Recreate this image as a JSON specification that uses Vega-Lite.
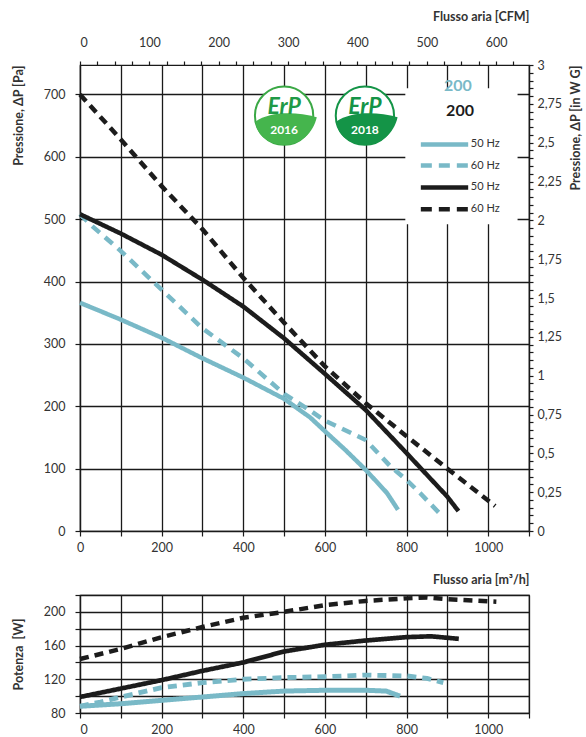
{
  "$schema": "https://vega.github.io/schema/vega-lite/v6.json",
  "padding": {"left": 11, "top": 9, "right": 0, "bottom": 0},
  "background": "white",
  "data": {"values": [{}]},
  "config": {
    "font": "Lato",
    "view": {"stroke": "#1a1a1a", "strokeWidth": 1.2},
    "axis": {"labelFont": "Lato", "labelFontSize": 12.5, "labelColor": "#333333", "titleFont": "Lato", "titleFontSize": 12.5, "titleFontWeight": "bold", "titleColor": "#333333", "domainColor": "#1a1a1a", "tickColor": "#1a1a1a", "gridColor": "#1a1a1a", "gridOpacity": 1, "gridWidth": 1.3, "domainWidth": 1.2, "tickWidth": 1.2}
  },
  "datasets": {
    "pressure": [
      {"s": "A50", "q": 0, "p": 366}, {"s": "A50", "q": 100, "p": 339}, {"s": "A50", "q": 200, "p": 310}, {"s": "A50", "q": 300, "p": 277}, {"s": "A50", "q": 400, "p": 246}, {"s": "A50", "q": 500, "p": 212}, {"s": "A50", "q": 564, "p": 182}, {"s": "A50", "q": 600, "p": 160}, {"s": "A50", "q": 650, "p": 130}, {"s": "A50", "q": 700, "p": 98}, {"s": "A50", "q": 752, "p": 61}, {"s": "A50", "q": 779, "p": 34},
      {"s": "A60", "q": 0, "p": 508}, {"s": "A60", "q": 28, "p": 490}, {"s": "A60", "q": 100, "p": 449}, {"s": "A60", "q": 200, "p": 387}, {"s": "A60", "q": 300, "p": 325}, {"s": "A60", "q": 400, "p": 277}, {"s": "A60", "q": 500, "p": 220}, {"s": "A60", "q": 564, "p": 193}, {"s": "A60", "q": 600, "p": 177}, {"s": "A60", "q": 700, "p": 146}, {"s": "A60", "q": 760, "p": 104}, {"s": "A60", "q": 800, "p": 82}, {"s": "A60", "q": 833, "p": 61}, {"s": "A60", "q": 890, "p": 22},
      {"s": "B50", "q": 0, "p": 508}, {"s": "B50", "q": 100, "p": 477}, {"s": "B50", "q": 200, "p": 443}, {"s": "B50", "q": 300, "p": 403}, {"s": "B50", "q": 400, "p": 360}, {"s": "B50", "q": 500, "p": 309}, {"s": "B50", "q": 600, "p": 252}, {"s": "B50", "q": 700, "p": 194}, {"s": "B50", "q": 800, "p": 125}, {"s": "B50", "q": 900, "p": 55}, {"s": "B50", "q": 927, "p": 32},
      {"s": "B60", "q": 0, "p": 700}, {"s": "B60", "q": 100, "p": 628}, {"s": "B60", "q": 200, "p": 553}, {"s": "B60", "q": 300, "p": 484}, {"s": "B60", "q": 400, "p": 406}, {"s": "B60", "q": 500, "p": 334}, {"s": "B60", "q": 600, "p": 264}, {"s": "B60", "q": 700, "p": 205}, {"s": "B60", "q": 800, "p": 152}, {"s": "B60", "q": 900, "p": 100}, {"s": "B60", "q": 1017, "p": 40}
    ],
    "power": [
      {"s": "A50", "q": 0, "w": 88}, {"s": "A50", "q": 100, "w": 91}, {"s": "A50", "q": 200, "w": 95}, {"s": "A50", "q": 300, "w": 99}, {"s": "A50", "q": 400, "w": 103}, {"s": "A50", "q": 500, "w": 106}, {"s": "A50", "q": 600, "w": 107}, {"s": "A50", "q": 700, "w": 107}, {"s": "A50", "q": 750, "w": 106}, {"s": "A50", "q": 784, "w": 100},
      {"s": "A60", "q": 0, "w": 88}, {"s": "A60", "q": 50, "w": 93}, {"s": "A60", "q": 100, "w": 99}, {"s": "A60", "q": 200, "w": 110}, {"s": "A60", "q": 300, "w": 116}, {"s": "A60", "q": 400, "w": 120}, {"s": "A60", "q": 500, "w": 122}, {"s": "A60", "q": 600, "w": 123}, {"s": "A60", "q": 700, "w": 125}, {"s": "A60", "q": 800, "w": 124}, {"s": "A60", "q": 850, "w": 121}, {"s": "A60", "q": 890, "w": 116},
      {"s": "B50", "q": 0, "w": 99}, {"s": "B50", "q": 100, "w": 109}, {"s": "B50", "q": 200, "w": 119}, {"s": "B50", "q": 300, "w": 130}, {"s": "B50", "q": 400, "w": 140}, {"s": "B50", "q": 500, "w": 153}, {"s": "B50", "q": 600, "w": 161}, {"s": "B50", "q": 700, "w": 166}, {"s": "B50", "q": 800, "w": 170}, {"s": "B50", "q": 860, "w": 171}, {"s": "B50", "q": 928, "w": 168},
      {"s": "B60", "q": 0, "w": 144}, {"s": "B60", "q": 100, "w": 156}, {"s": "B60", "q": 200, "w": 170}, {"s": "B60", "q": 300, "w": 182}, {"s": "B60", "q": 400, "w": 193}, {"s": "B60", "q": 500, "w": 200}, {"s": "B60", "q": 600, "w": 208}, {"s": "B60", "q": 700, "w": 213}, {"s": "B60", "q": 800, "w": 216}, {"s": "B60", "q": 850, "w": 217}, {"s": "B60", "q": 900, "w": 215}, {"s": "B60", "q": 1020, "w": 212}
    ]
  },
  "resolve": {"scale": {"x": "independent", "y": "independent", "color": "independent", "strokeDash": "independent", "strokeWidth": "independent"}},
  "spacing": 17,
  "vconcat": [
    {
      "width": 449,
      "height": 466,
      "resolve": {"scale": {"x": "independent", "y": "independent"}},
      "layer": [
        {
          "layer": [
            {
              "data": {"name": "pressure"},
              "mark": {"type": "line", "strokeJoin": "round"},
              "encoding": {
                "x": {"field": "q", "type": "quantitative", "scale": {"domain": [0, 1100], "nice": false, "zero": false},
                  "axis": {"orient": "bottom", "title": null, "format": "d", "values": [0, 100, 200, 300, 400, 500, 600, 700, 800, 900, 1000, 1100], "labelExpr": "(datum.value % 200 === 0 && datum.value <= 1000) ? datum.label : ''", "grid": true, "tickSize": 5, "labelPadding": 5, "labelFlush": false}},
                "y": {"field": "p", "type": "quantitative", "scale": {"domain": [0, 747.3], "nice": false, "zero": false},
                  "axis": {"orient": "left", "title": "Pressione, ΔP [Pa]", "titleAnchor": "end", "titlePadding": 18, "values": [0, 50, 100, 150, 200, 250, 300, 350, 400, 450, 500, 550, 600, 650, 700], "labelExpr": "datum.value % 100 === 0 ? datum.label : ''", "grid": true, "tickSize": 5, "labelPadding": 10}},
                "color": {"field": "s", "type": "nominal", "scale": {"domain": ["A50", "A60", "B50", "B60"], "range": ["#79b9c7", "#79b9c7", "#1c1c1c", "#1c1c1c"]}, "legend": null},
                "strokeDash": {"field": "s", "type": "nominal", "scale": {"domain": ["A50", "A60", "B50", "B60"], "range": [[1, 0], [10, 7], [1, 0], [9, 6]]}, "legend": null},
                "strokeWidth": {"field": "s", "type": "ordinal", "scale": {"domain": ["A50", "A60", "B50", "B60"], "range": [4.5, 4.5, 3, 3.5]}, "legend": null}
              }
            },
            {
              "mark": {"type": "rect", "fill": "white"},
              "encoding": {"x": {"datum": 797, "type": "quantitative"}, "x2": {"datum": 1072}, "y": {"datum": 492, "type": "quantitative"}, "y2": {"datum": 710}}
            },
            {
              "mark": {"type": "text", "fontSize": 16, "fontWeight": "bold", "color": "#79b9c7", "align": "center", "baseline": "middle"},
              "encoding": {"x": {"datum": 926, "type": "quantitative"}, "y": {"datum": 713, "type": "quantitative"}, "text": {"value": "200"}}
            },
            {
              "mark": {"type": "text", "fontSize": 16, "fontWeight": "bold", "color": "#1c1c1c", "align": "center", "baseline": "middle"},
              "encoding": {"x": {"datum": 931, "type": "quantitative"}, "y": {"datum": 673, "type": "quantitative"}, "text": {"value": "200"}}
            },
            {
              "mark": {"type": "rule", "color": "#79b9c7", "strokeWidth": 4.5},
              "encoding": {"x": {"datum": 835, "type": "quantitative"}, "x2": {"datum": 951}, "y": {"datum": 620, "type": "quantitative"}}
            },
            {
              "mark": {"type": "rule", "color": "#79b9c7", "strokeWidth": 4.5, "strokeDash": [11, 7]},
              "encoding": {"x": {"datum": 835, "type": "quantitative"}, "x2": {"datum": 951}, "y": {"datum": 586, "type": "quantitative"}}
            },
            {
              "mark": {"type": "rule", "color": "#1c1c1c", "strokeWidth": 4.5},
              "encoding": {"x": {"datum": 835, "type": "quantitative"}, "x2": {"datum": 951}, "y": {"datum": 551, "type": "quantitative"}}
            },
            {
              "mark": {"type": "rule", "color": "#1c1c1c", "strokeWidth": 4.5, "strokeDash": [11, 7]},
              "encoding": {"x": {"datum": 835, "type": "quantitative"}, "x2": {"datum": 951}, "y": {"datum": 516, "type": "quantitative"}}
            },
            {
              "mark": {"type": "text", "fontSize": 11, "color": "#333333", "align": "left", "baseline": "middle", "dx": 1},
              "encoding": {"x": {"datum": 955, "type": "quantitative"}, "y": {"datum": 620, "type": "quantitative"}, "text": {"value": "50 Hz"}}
            },
            {
              "mark": {"type": "text", "fontSize": 11, "color": "#333333", "align": "left", "baseline": "middle", "dx": 1},
              "encoding": {"x": {"datum": 955, "type": "quantitative"}, "y": {"datum": 586, "type": "quantitative"}, "text": {"value": "60 Hz"}}
            },
            {
              "mark": {"type": "text", "fontSize": 11, "color": "#333333", "align": "left", "baseline": "middle", "dx": 1},
              "encoding": {"x": {"datum": 955, "type": "quantitative"}, "y": {"datum": 551, "type": "quantitative"}, "text": {"value": "50 Hz"}}
            },
            {
              "mark": {"type": "text", "fontSize": 11, "color": "#333333", "align": "left", "baseline": "middle", "dx": 1},
              "encoding": {"x": {"datum": 955, "type": "quantitative"}, "y": {"datum": 516, "type": "quantitative"}, "text": {"value": "60 Hz"}}
            },
            {
              "mark": {"type": "point", "shape": "circle", "filled": true, "fill": "white", "stroke": "#3aa845", "strokeWidth": 2, "size": 3400, "opacity": 1},
              "encoding": {"x": {"datum": 500, "type": "quantitative"}, "y": {"datum": 666, "type": "quantitative"}}
            },
            {
              "mark": {"type": "point", "shape": "M -0.98 0.2 C -0.5 -0.15 0.4 -0.15 1.12 0.05 C 1.0 0.6 0.55 1 0 1 C -0.55 1 -0.95 0.65 -0.98 0.2 Z", "filled": true, "fill": "#45b54d", "strokeWidth": 0, "size": 3400, "opacity": 1},
              "encoding": {"x": {"datum": 500, "type": "quantitative"}, "y": {"datum": 666, "type": "quantitative"}}
            },
            {
              "mark": {"type": "text", "fontSize": 23, "fontWeight": "bold", "fontStyle": "italic", "color": "#1f9a46", "align": "center", "baseline": "middle", "dy": -9},
              "encoding": {"x": {"datum": 500, "type": "quantitative"}, "y": {"datum": 666, "type": "quantitative"}, "text": {"value": "ErP"}}
            },
            {
              "mark": {"type": "text", "fontSize": 12, "fontWeight": "bold", "color": "white", "align": "center", "baseline": "middle", "dy": 14},
              "encoding": {"x": {"datum": 500, "type": "quantitative"}, "y": {"datum": 666, "type": "quantitative"}, "text": {"value": "2016"}}
            },
            {
              "mark": {"type": "point", "shape": "circle", "filled": true, "fill": "white", "stroke": "#149447", "strokeWidth": 2, "size": 3400, "opacity": 1},
              "encoding": {"x": {"datum": 698, "type": "quantitative"}, "y": {"datum": 666, "type": "quantitative"}}
            },
            {
              "mark": {"type": "point", "shape": "M -0.98 0.2 C -0.5 -0.15 0.4 -0.15 1.12 0.05 C 1.0 0.6 0.55 1 0 1 C -0.55 1 -0.95 0.65 -0.98 0.2 Z", "filled": true, "fill": "#149447", "strokeWidth": 0, "size": 3400, "opacity": 1},
              "encoding": {"x": {"datum": 698, "type": "quantitative"}, "y": {"datum": 666, "type": "quantitative"}}
            },
            {
              "mark": {"type": "text", "fontSize": 23, "fontWeight": "bold", "fontStyle": "italic", "color": "#149447", "align": "center", "baseline": "middle", "dy": -9},
              "encoding": {"x": {"datum": 698, "type": "quantitative"}, "y": {"datum": 666, "type": "quantitative"}, "text": {"value": "ErP"}}
            },
            {
              "mark": {"type": "text", "fontSize": 12, "fontWeight": "bold", "color": "white", "align": "center", "baseline": "middle", "dy": 14},
              "encoding": {"x": {"datum": 698, "type": "quantitative"}, "y": {"datum": 666, "type": "quantitative"}, "text": {"value": "2018"}}
            }
          ]
        },
        {
          "mark": {"type": "point", "opacity": 0},
          "encoding": {
            "x": {"datum": 0, "type": "quantitative", "scale": {"domain": [0, 647.4], "nice": false, "zero": false},
              "axis": {"orient": "top", "title": "Flusso aria [CFM]", "titleAnchor": "end", "titlePadding": 13, "values": [0, 25, 50, 75, 100, 125, 150, 175, 200, 225, 250, 275, 300, 325, 350, 375, 400, 425, 450, 475, 500, 525, 550, 575, 600, 625], "labelExpr": "datum.value % 100 === 0 ? datum.label : ''", "grid": false, "tickSize": 4, "labelPadding": 12}},
            "y": {"datum": 0, "type": "quantitative", "scale": {"domain": [0, 3], "nice": false, "zero": false},
              "axis": {"orient": "right", "title": "Pressione, ΔP [in W G]", "titleAngle": 270, "titleBaseline": "top", "titleAnchor": "end", "titlePadding": 8, "values": [0, 0.05, 0.1, 0.15, 0.2, 0.25, 0.3, 0.35, 0.4, 0.45, 0.5, 0.55, 0.6, 0.65, 0.7, 0.75, 0.8, 0.85, 0.9, 0.95, 1, 1.05, 1.1, 1.15, 1.2, 1.25, 1.3, 1.35, 1.4, 1.45, 1.5, 1.55, 1.6, 1.65, 1.7, 1.75, 1.8, 1.85, 1.9, 1.95, 2, 2.05, 2.1, 2.15, 2.2, 2.25, 2.3, 2.35, 2.4, 2.45, 2.5, 2.55, 2.6, 2.65, 2.7, 2.75, 2.8, 2.85, 2.9, 2.95, 3], "labelExpr": "abs(datum.value * 4 - round(datum.value * 4)) < 0.001 ? replace(format(datum.value, '.2~f'), '.', ',') : ''", "grid": false, "tickSize": 4, "labelPadding": 4}}
          }
        }
      ]
    },
    {
      "width": 449,
      "height": 118,
      "resolve": {"axis": {"x": "independent"}},
      "layer": [
        {
          "data": {"name": "power"},
          "mark": {"type": "line", "strokeJoin": "round"},
          "encoding": {
            "x": {"field": "q", "type": "quantitative", "scale": {"domain": [0, 1100], "nice": false, "zero": false},
              "axis": {"orient": "bottom", "title": null, "format": "d", "values": [0, 100, 200, 300, 400, 500, 600, 700, 800, 900, 1000, 1100], "labelExpr": "(datum.value % 200 === 0 && datum.value <= 1000) ? datum.label : ''", "grid": true, "tickSize": 5, "labelPadding": 5}},
            "y": {"field": "w", "type": "quantitative", "scale": {"domain": [80, 220], "nice": false, "zero": false},
              "axis": {"orient": "left", "title": "Potenza\u00a0 [W]", "titlePadding": 18, "values": [80, 100, 120, 140, 160, 180, 200, 220], "labelExpr": "datum.value % 40 === 0 ? datum.label : ''", "grid": true, "tickSize": 5, "labelPadding": 10}},
            "color": {"field": "s", "type": "nominal", "scale": {"domain": ["A50", "A60", "B50", "B60"], "range": ["#79b9c7", "#79b9c7", "#1c1c1c", "#1c1c1c"]}, "legend": null},
            "strokeDash": {"field": "s", "type": "nominal", "scale": {"domain": ["A50", "A60", "B50", "B60"], "range": [[1, 0], [9, 6], [1, 0], [9, 6]]}, "legend": null},
            "strokeWidth": {"field": "s", "type": "ordinal", "scale": {"domain": ["A50", "A60", "B50", "B60"], "range": [5, 4.5, 2.5, 3.5]}, "legend": null}
          }
        },
        {
          "mark": {"type": "point", "opacity": 0},
          "encoding": {
            "x": {"datum": 0, "type": "quantitative", "axis": {"orient": "top", "title": "Flusso aria [m³/h]", "titleAnchor": "end", "titlePadding": 9, "labels": false, "ticks": false, "domain": false, "grid": false}}
          }
        }
      ]
    }
  ]
}
